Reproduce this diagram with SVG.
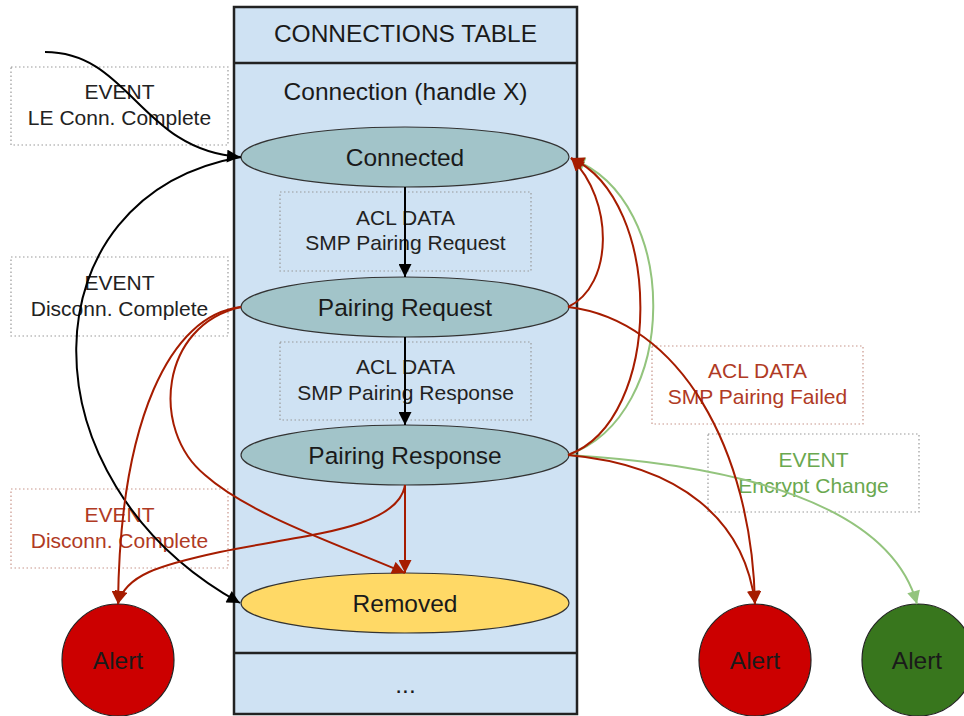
<svg xmlns="http://www.w3.org/2000/svg" width="964" height="716" viewBox="0 0 964 716">
  <style>
    text { font-family: "Liberation Sans", Arial, sans-serif; text-anchor: middle; }
    .title { font-size: 24.5px; fill: #1a1a1a; }
    .state { fill: #a2c4c9; stroke: #333; stroke-width: 1.2; }
    .removed { fill: #ffd966; stroke: #333; stroke-width: 1.2; }
    .stxt { font-size: 24.5px; fill: #1a1a1a; }
    .lbl { fill: none; stroke: #999; stroke-width: 1.2; stroke-dasharray: 1.5 2.5; }
    .lbl-red { fill: none; stroke: #c8958a; stroke-width: 1.2; stroke-dasharray: 1.5 2.5; }
    .ltxt { font-size: 21px; fill: #222; }
    .ltxt-red { font-size: 21px; fill: #b03a24; }
    .ltxt-green { font-size: 21px; fill: #6aa84f; }
    .alert-red { fill: #cc0000; stroke: #222; stroke-width: 1.2; }
    .alert-green { fill: #38761d; stroke: #222; stroke-width: 1.2; }
    .e-black { fill: none; stroke: #000; stroke-width: 2; marker-end: url(#ah-black); }
    .e-red { fill: none; stroke: #a61c00; stroke-width: 2; marker-end: url(#ah-red); }
    .e-green { fill: none; stroke: #93c47d; stroke-width: 2; marker-end: url(#ah-green); }
  </style>
  <defs>
    <marker id="ah-black" viewBox="0 0 10 10" refX="10" refY="5" markerWidth="7" markerHeight="6.5" orient="auto">
      <path d="M0,0 L10,5 L0,10 z" fill="#000"/>
    </marker>
    <marker id="ah-red" viewBox="0 0 10 10" refX="10" refY="5" markerWidth="7" markerHeight="6.5" orient="auto">
      <path d="M0,0 L10,5 L0,10 z" fill="#a61c00"/>
    </marker>
    <marker id="ah-green" viewBox="0 0 10 10" refX="10" refY="5" markerWidth="7" markerHeight="6.5" orient="auto">
      <path d="M0,0 L10,5 L0,10 z" fill="#93c47d"/>
    </marker>
  </defs>

  <rect width="964" height="716" fill="#fff"/>

  <!-- connections table -->
  <g id="table">
    <rect x="234" y="7" width="343" height="707" fill="#cfe2f3" stroke="#222" stroke-width="2.5"/>
    <line x1="234" y1="63" x2="577" y2="63" stroke="#222" stroke-width="2.5"/>
    <line x1="234" y1="653" x2="577" y2="653" stroke="#222" stroke-width="2.5"/>
    <text class="title" x="405.5" y="42">CONNECTIONS TABLE</text>
    <text class="title" x="405.5" y="100">Connection (handle X)</text>
    <text class="title" x="405.5" y="693">...</text>
  </g>

  <!-- edge labels -->
  <g id="label-le-conn">
    <rect class="lbl" x="11" y="67" width="217" height="78"/>
    <text class="ltxt" x="119.5" y="99">EVENT</text>
    <text class="ltxt" x="119.5" y="125">LE Conn. Complete</text>
  </g>
  <g id="label-disconn">
    <rect class="lbl" x="11" y="257" width="217" height="79"/>
    <text class="ltxt" x="119.5" y="290">EVENT</text>
    <text class="ltxt" x="119.5" y="316">Disconn. Complete</text>
  </g>
  <g id="label-disconn-alert">
    <rect class="lbl-red" x="11" y="489" width="217" height="79"/>
    <text class="ltxt-red" x="119.5" y="522">EVENT</text>
    <text class="ltxt-red" x="119.5" y="548">Disconn. Complete</text>
  </g>
  <g id="label-pairing-req">
    <rect class="lbl" x="280" y="192" width="251" height="79"/>
    <text class="ltxt" x="405.5" y="225">ACL DATA</text>
    <text class="ltxt" x="405.5" y="250">SMP Pairing Request</text>
  </g>
  <g id="label-pairing-rsp">
    <rect class="lbl" x="280" y="342" width="251" height="78"/>
    <text class="ltxt" x="405.5" y="374">ACL DATA</text>
    <text class="ltxt" x="405.5" y="400">SMP Pairing Response</text>
  </g>
  <g id="label-pairing-failed">
    <rect class="lbl-red" x="652" y="346" width="211" height="78"/>
    <text class="ltxt-red" x="757.5" y="378">ACL DATA</text>
    <text class="ltxt-red" x="757.5" y="404">SMP Pairing Failed</text>
  </g>
  <g id="label-encrypt">
    <rect class="lbl" x="708" y="434" width="211" height="78"/>
    <text class="ltxt-green" x="813.5" y="467">EVENT</text>
    <text class="ltxt-green" x="813.5" y="493">Encrypt Change</text>
  </g>

  <!-- states -->
  <g id="connected">
    <ellipse class="state" cx="405" cy="157" rx="164" ry="30"/>
    <text class="stxt" x="405" y="166">Connected</text>
  </g>
  <g id="pairing-request">
    <ellipse class="state" cx="405" cy="307" rx="164" ry="30"/>
    <text class="stxt" x="405" y="316">Pairing Request</text>
  </g>
  <g id="pairing-response">
    <ellipse class="state" cx="405" cy="455" rx="164" ry="30"/>
    <text class="stxt" x="405" y="464">Pairing Response</text>
  </g>
  <g id="removed">
    <ellipse class="removed" cx="405" cy="603" rx="164" ry="30"/>
    <text class="stxt" x="405" y="612">Removed</text>
  </g>

  <!-- alerts -->
  <g id="alert-left">
    <circle class="alert-red" cx="118" cy="660" r="56"/>
    <text class="stxt" x="118" y="669">Alert</text>
  </g>
  <g id="alert-right">
    <circle class="alert-red" cx="755" cy="660" r="56"/>
    <text class="stxt" x="755" y="669">Alert</text>
  </g>
  <g id="alert-green">
    <circle class="alert-green" cx="918" cy="660" r="56"/>
    <text class="stxt" x="917" y="669">Alert</text>
  </g>

  <!-- connectors -->
  <g id="connectors">
    <path class="e-black" d="M45,52 C130,52 140,150 240,157"/>
    <path class="e-black" d="M241,157 C25,195 18,480 240,603"/>
    <path class="e-black" d="M405,187 L405,277"/>
    <path class="e-black" d="M405,337 L405,425"/>

    <path class="e-green" d="M568,455 C681,415 681,200 572,159"/>
    <path class="e-green" d="M568,455 C740,465 890,505 917,604"/>

    <path class="e-red" d="M241,307 C170,315 120,420 118,604"/>
    <path class="e-red" d="M241,307 C160,325 150,430 205,475 C250,515 340,545 405,573"/>
    <path class="e-red" d="M405,485 L405,573"/>
    <path class="e-red" d="M405,485 C398,530 300,535 220,552 C160,565 125,575 118,604"/>
    <path class="e-red" d="M568,307 C614,285 614,200 571,158"/>
    <path class="e-red" d="M568,455 C664,420 664,200 571,158"/>
    <path class="e-red" d="M568,307 C680,320 752,450 755,604"/>
    <path class="e-red" d="M568,455 C680,465 745,520 755,604"/>
  </g>
</svg>
